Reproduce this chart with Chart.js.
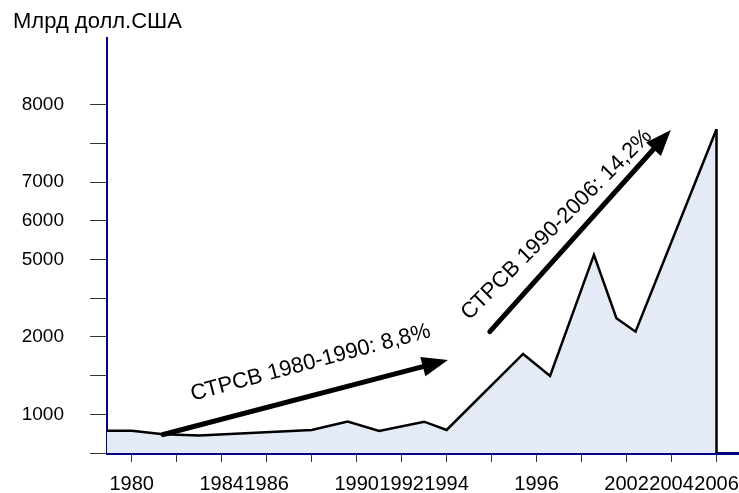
<!DOCTYPE html>
<html><head><meta charset="utf-8">
<script src="https://cdn.jsdelivr.net/npm/chart.js@4"></script>
<style>html,body{margin:0;padding:0;background:#fff}#wrap{width:739px;height:493px;position:relative}</style>
</head><body><div id="wrap"><canvas id="c" width="739" height="493"></canvas></div>
<script>
// Data
const years  = [1978.9, 1980, 1981.4, 1983, 1988, 1989.6, 1991, 1993, 1994, 1997.4, 1998.6, 2000.55, 2001.55, 2002.4, 2006];
const values = [576, 576, 483, 452, 594, 814, 568, 809, 594, 2558, 1990, 5116, 3481, 3134, 8364];

const xTickYears  = [1980, 1982, 1984, 1986, 1988, 1990, 1992, 1994, 1996, 1998, 2000, 2002, 2004, 2006];
const xTickLabels = ['1980', '', '1984', '1986', '', '1990', '1992', '1994', '', '1996', '', '2002', '2004', '2006'];
const yTickValues = [0, 1000, 2000, 3000, 4000, 5000, 6000, 7000, 8000, 9000];
const yTickLabels = ['', '1000', '', '2000', '', '5000', '6000', '7000', '', '8000'];

const titleText = 'Млрд долл.США';
const arrowStartYear  = [1981.4, 1995.92];
const arrowStartValue = [478, 3134];
const arrowEndYear    = [1994.06, 2003.97];
const arrowEndValue   = [2403, 8346];
const noteTexts  = ['СТРСВ 1980-1990: 8,8%', 'СТРСВ 1990-2006: 14,2%'];
const noteYear   = [1987.95, 1998.9];
const noteValue  = [2330, 5900];
const noteAngle  = [-15, -45];

const FONT = "'Liberation Sans', Arial, sans-serif";

const annot = {
  id: 'annot',
  afterDatasetsDraw(chart) {
    const ctx = chart.ctx, xs = chart.scales.x, ys = chart.scales.y;
    ctx.save();
    // closing vertical edge of the area
    const lx = xs.getPixelForValue(years[years.length - 1]);
    ctx.strokeStyle = '#000'; ctx.lineWidth = 2.5;
    ctx.beginPath();
    ctx.moveTo(lx, ys.getPixelForValue(values[values.length - 1]));
    ctx.lineTo(lx, ys.getPixelForValue(0));
    ctx.stroke();
    // arrows
    for (let i = 0; i < arrowStartYear.length; i++) {
      const x1 = xs.getPixelForValue(arrowStartYear[i]), y1 = ys.getPixelForValue(arrowStartValue[i]);
      const x2 = xs.getPixelForValue(arrowEndYear[i]),   y2 = ys.getPixelForValue(arrowEndValue[i]);
      const a = Math.atan2(y2 - y1, x2 - x1);
      const hl = 26, hw = 10;
      const bx = x2 - hl * Math.cos(a), by = y2 - hl * Math.sin(a);
      ctx.strokeStyle = '#000'; ctx.lineWidth = 5; ctx.lineCap = 'round';
      ctx.beginPath(); ctx.moveTo(x1, y1); ctx.lineTo(bx + 2 * Math.cos(a), by + 2 * Math.sin(a)); ctx.stroke();
      ctx.fillStyle = '#000';
      ctx.beginPath();
      ctx.moveTo(x2, y2);
      ctx.lineTo(bx + hw * Math.sin(a), by - hw * Math.cos(a));
      ctx.lineTo(bx - hw * Math.sin(a), by + hw * Math.cos(a));
      ctx.closePath(); ctx.fill();
    }
    // notes
    ctx.font = '22px ' + FONT; ctx.fillStyle = '#000';
    ctx.textAlign = 'center'; ctx.textBaseline = 'middle';
    for (let i = 0; i < noteTexts.length; i++) {
      ctx.save();
      ctx.translate(xs.getPixelForValue(noteYear[i]), ys.getPixelForValue(noteValue[i]));
      ctx.rotate(noteAngle[i] * Math.PI / 180);
      ctx.fillText(noteTexts[i], 0, 0);
      ctx.restore();
    }
    // title
    ctx.font = '22px ' + FONT; ctx.textAlign = 'left'; ctx.textBaseline = 'alphabetic';
    ctx.fillText(titleText, 13, 28);
    ctx.restore();
  }
};

new Chart(document.getElementById('c').getContext('2d'), {
  type: 'line',
  data: {
    datasets: [{
      data: years.map((x, i) => ({ x: x, y: values[i] })),
      borderColor: '#000', borderWidth: 2.5, backgroundColor: '#E5EBF6',
      fill: 'origin', pointRadius: 0, tension: 0, borderJoinStyle: 'miter'
    }]
  },
  options: {
    responsive: false, animation: false,
    layout: { padding: { top: 38, left: 0, right: 0, bottom: 0 } },
    plugins: { legend: { display: false }, tooltip: { enabled: false }, title: { display: false } },
    scales: {
      x: {
        type: 'linear', min: 1978.9, max: 2007,
        afterBuildTicks: s => { s.ticks = xTickYears.map(v => ({ value: v })); },
        afterFit: s => { s.height = 40; s.paddingLeft = 0; s.paddingRight = 0; },
        ticks: {
          autoSkip: false, maxRotation: 0, minRotation: 0, padding: 10, color: '#000',
          font: { family: FONT, size: 20 },
          callback: (v, i) => xTickLabels[i]
        },
        grid: { drawOnChartArea: false, drawTicks: true, tickLength: 9, color: '#333', lineWidth: 1 },
        border: { display: true, color: '#000080', width: 3 }
      },
      y: {
        min: 0, max: 10720,
        afterBuildTicks: s => { s.ticks = yTickValues.map(v => ({ value: v })); },
        afterFit: s => { s.width = 107; s.paddingTop = 0; s.paddingBottom = 0; },
        ticks: {
          autoSkip: false, padding: 26, color: '#000',
          font: { family: FONT, size: 19 },
          callback: (v, i) => yTickLabels[i]
        },
        grid: { drawOnChartArea: false, drawTicks: true, tickLength: 17, color: '#333', lineWidth: 1 },
        border: { display: true, color: '#000080', width: 2 }
      }
    }
  },
  plugins: [annot]
});
</script>
</body></html>
